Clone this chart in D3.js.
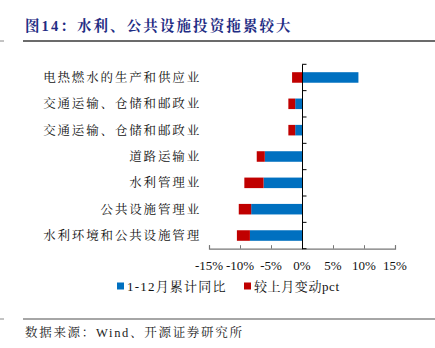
<!DOCTYPE html>
<html><head><meta charset="utf-8">
<script src="https://cdn.jsdelivr.net/npm/d3@7"></script>
<style>
html,body{margin:0;padding:0;background:#fff;}
svg{display:block;}
</style>
</head><body>
<svg id="c" width="435" height="348"></svg>
<script>
const categories = ["电热燃水的生产和供应业","交通运输、仓储和邮政业","交通运输、仓储和邮政业","道路运输业","水利管理业","公共设施管理业","水利环境和公共设施管理"];
const cumulativeYoY = [9.1, -1.1, -1.1, -6.0, -6.2, -8.2, -8.4];
const monthChange = [-1.6, -1.1, -1.1, -1.3, -3.1, -2.0, -2.1];
const xTicks = [-15, -10, -5, 0, 5, 10, 15];
const seriesNames = ["1-12月累计同比", "较上月变动pct"];
const colors = ["#0070C0", "#C00000"];

const svg = d3.select("#c");
const serif = "'Liberation Serif','Times New Roman','Noto Serif CJK SC','Noto Sans CJK SC',serif";

// Title
svg.append("text").attr("x", 25).attr("y", 31)
  .attr("font-family", serif).attr("font-weight", "bold").attr("font-size", 14.5)
  .attr("letter-spacing", 2.1).attr("fill", "#1F2D84")
  .text("图14：水利、公共设施投资拖累较大");
svg.append("line").attr("x1", 23).attr("x2", 435).attr("y1", 41).attr("y2", 41).attr("stroke", "#3a3a3a").attr("stroke-width", 1.3);
svg.append("line").attr("x1", 0).attr("x2", 4).attr("y1", 41).attr("y2", 41).attr("stroke", "#888").attr("stroke-width", 1);

const x = d3.scaleLinear().domain([-15, 15]).range([209, 395]);
const y = d3.scaleBand().domain(d3.range(categories.length)).range([64.3, 248.7]).padding(0);
const barH = y.bandwidth() * 0.4;

const data = categories.map((c, i) => ({i, a: cumulativeYoY[i], b: monthChange[i]}));
const stack = d3.stack().keys(["a", "b"]).offset(d3.stackOffsetDiverging);
const layers = stack(data);

layers.forEach((layer, k) => {
  svg.append("g").selectAll("rect").data(layer).join("rect")
    .attr("x", d => x(Math.min(d[0], d[1])))
    .attr("width", d => Math.abs(x(d[1]) - x(d[0])))
    .attr("y", d => y(d.data.i) + (y.bandwidth() - barH) / 2)
    .attr("height", barH)
    .attr("fill", colors[k]);
});

// X axis
const xAxis = svg.append("g").attr("transform", "translate(0,248.7)")
  .call(d3.axisTop(x).tickValues(xTicks).tickSize(3.5).tickFormat(""));
xAxis.select(".domain").attr("stroke", "#777").attr("stroke-width", 1.2);
xAxis.selectAll(".tick line").attr("stroke", "#777");
svg.append("g").selectAll("text").data(xTicks).join("text")
  .attr("x", d => x(d)).attr("y", 270)
  .attr("text-anchor", "middle")
  .attr("font-family", serif).attr("font-size", 13).attr("fill", "#111")
  .text(d => d + "%");

// Y axis at zero
const yAxis = svg.append("g").attr("transform", `translate(${x(0)},0)`)
  .call(d3.axisRight(y).tickValues([]).tickSizeOuter(0));
yAxis.select(".domain").attr("stroke", "#000").attr("stroke-width", 1);
const bounds = y.domain().map(i => y(i)).concat([y.range()[1]]);
svg.append("g").selectAll("line").data(bounds).join("line")
  .attr("x1", x(0)).attr("x2", x(0) + 4.5)
  .attr("y1", d => d).attr("y2", d => d)
  .attr("stroke", "#000").attr("stroke-width", 1);

// Category labels
svg.append("g").selectAll("text").data(categories).join("text")
  .attr("x", 201).attr("y", (d, i) => y(i) + y.bandwidth() / 2 + 4.5)
  .attr("text-anchor", "end")
  .attr("font-family", serif).attr("font-size", 12.5).attr("letter-spacing", 1.85)
  .attr("fill", "#111")
  .text(d => d);

// Legend
const legendX = [117, 244];
const legendSpacing = [1.2, 0.6];
seriesNames.forEach((n, k) => {
  svg.append("rect").attr("x", legendX[k]).attr("y", 282.5).attr("width", 7).attr("height", 7).attr("fill", colors[k]);
  svg.append("text").attr("x", legendX[k] + 10).attr("y", 290.5)
    .attr("font-family", serif).attr("font-size", 13).attr("letter-spacing", legendSpacing[k]).attr("fill", "#111")
    .text(n);
});

// Footer
svg.append("line").attr("x1", 23).attr("x2", 435).attr("y1", 319).attr("y2", 319).attr("stroke", "#888").attr("stroke-width", 1.3);
svg.append("line").attr("x1", 0).attr("x2", 4).attr("y1", 319).attr("y2", 319).attr("stroke", "#888").attr("stroke-width", 1);
svg.append("text").attr("x", 25).attr("y", 336.5)
  .attr("font-family", serif).attr("font-size", 12.5).attr("letter-spacing", 1.7).attr("fill", "#222")
  .text("数据来源：Wind、开源证券研究所");
</script>
</body></html>
